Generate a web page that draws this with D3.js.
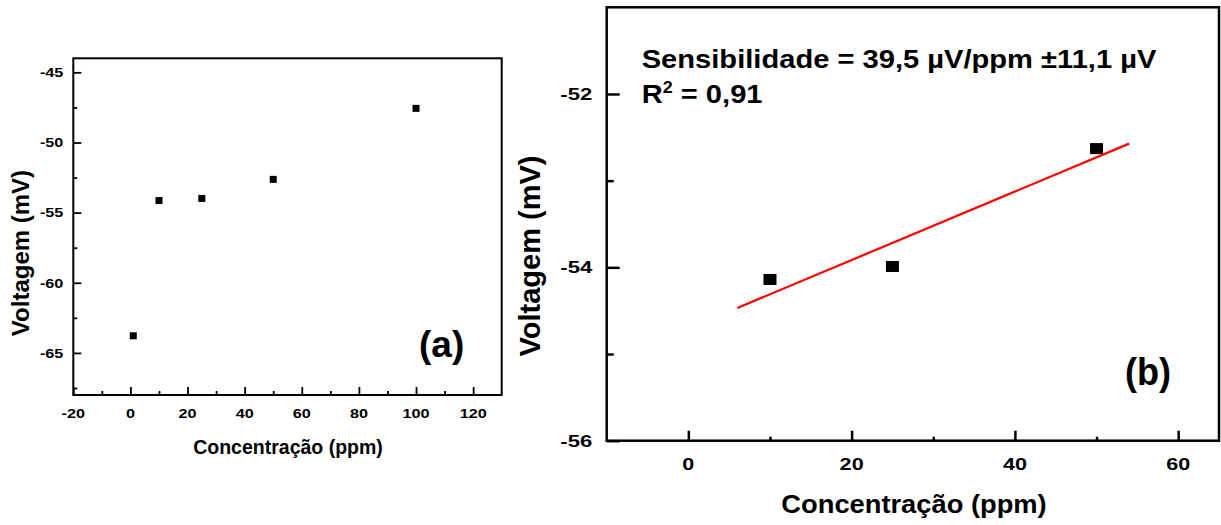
<!DOCTYPE html>
<html>
<head>
<meta charset="utf-8">
<script src="https://cdn.jsdelivr.net/npm/d3@7/dist/d3.min.js"></script>
<style>
  html, body { margin: 0; padding: 0; background: #fff; }
  svg { display: block; }
  text { font-family: "Liberation Sans", Arial, sans-serif; font-weight: bold; fill: #000; }
</style>
</head>
<body>
<svg id="chart" width="1221" height="525"></svg>
<script>
// Sensor response: concentration (ppm) vs. measured voltage (mV)
const concentration = [1, 10, 25, 50, 100];
const voltage = [-63.78, -54.14, -53.99, -52.63, -47.57];

// Linear region used for the sensitivity fit
const fitConcentration = [10, 25, 50];
const fitVoltage = [-54.14, -53.99, -52.63];
const sensitivity = 39.5;      // µV/ppm
const sensitivityError = 11.1; // µV
const rSquared = 0.91;
const fitExtent = [6, 54];     // ppm span of the drawn fit line

// Tick values
const xTicksA = [-20, 0, 20, 40, 60, 80, 100, 120];
const xMinorA = [-10, 10, 30, 50, 70, 90, 110];
const yTicksA = [-65, -60, -55, -50, -45];
const yMinorA = [-67.5, -62.5, -57.5, -52.5, -47.5];
const xTicksB = [0, 20, 40, 60];
const xMinorB = [10, 30, 50];
const yTicksB = [-56, -54, -52];
const yMinorB = [-55, -53];

const xTitle = "Concentração (ppm)";
const yTitle = "Voltagem (mV)";
const fmt = v => String(v).replace(".", ",");

const svg = d3.select("#chart");

// Text placed through a horizontal scale so glyph width can be tuned
function label(parent, str, x, y, size, anchor, sx, rotate) {
  const g = parent.append("g")
    .attr("transform", `translate(${x},${y})` + (rotate ? ` rotate(${rotate})` : "") + ` scale(${sx},1)`);
  return g.append("text")
    .attr("text-anchor", anchor)
    .style("font-size", size + "px")
    .text(str);
}

function ticks(g, axis, width) {
  g.call(axis);
  g.select(".domain").remove();
  g.selectAll(".tick line").attr("stroke", "#000").attr("stroke-width", width);
  g.selectAll(".tick text").remove();
}

// ---------- Panel (a): full concentration range ----------
{
  const x = d3.scaleLinear().domain([-20, 130]).range([73.3, 501.7]);
  const y = d3.scaleLinear().domain([-68, -44]).range([395, 58.3]);
  const g = svg.append("g");

  ticks(g.append("g").attr("transform", `translate(0,${y.range()[0]})`),
    d3.axisBottom(x).tickValues(xTicksA).tickSizeInner(-8).tickSizeOuter(0), 1.8);
  ticks(g.append("g").attr("transform", `translate(0,${y.range()[0]})`),
    d3.axisBottom(x).tickValues(xMinorA).tickSizeInner(-4).tickSizeOuter(0), 1.8);
  ticks(g.append("g").attr("transform", `translate(${x.range()[0]},0)`),
    d3.axisLeft(y).tickValues(yTicksA).tickSizeInner(-8).tickSizeOuter(0), 1.8);
  ticks(g.append("g").attr("transform", `translate(${x.range()[0]},0)`),
    d3.axisLeft(y).tickValues(yMinorA).tickSizeInner(-4).tickSizeOuter(0), 1.8);

  g.append("rect")
    .attr("x", x.range()[0]).attr("y", y.range()[1])
    .attr("width", x.range()[1] - x.range()[0])
    .attr("height", y.range()[0] - y.range()[1])
    .attr("fill", "none").attr("stroke", "#000").attr("stroke-width", 2);

  xTicksA.forEach(v => label(g, fmt(v), x(v), 418, 13.5, "middle", 1.2));
  yTicksA.forEach(v => label(g, fmt(v), 63.3, y(v) + 4.8, 13.5, "end", 1.2));

  label(g, xTitle, 288, 453.5, 19.5, "middle", 1);
  label(g, yTitle, 29, 253, 24, "middle", 1, -90);
  label(g, "(a)", 419, 357, 37, "start", 1);

  g.selectAll("rect.pt").data(concentration).join("rect")
    .attr("class", "pt")
    .attr("x", (d) => x(d) - 3.5)
    .attr("y", (d, i) => y(voltage[i]) - 3.5)
    .attr("width", 7).attr("height", 7)
    .attr("fill", "#000");
}

// ---------- Panel (b): linear region with fit ----------
{
  const x = d3.scaleLinear().domain([-10, 65]).range([606.7, 1219]);
  const y = d3.scaleLinear().domain([-56, -51]).range([440.7, 7.3]);
  const g = svg.append("g");

  ticks(g.append("g").attr("transform", `translate(0,${y.range()[0]})`),
    d3.axisBottom(x).tickValues(xTicksB).tickSizeInner(-10).tickSizeOuter(0), 2.5);
  ticks(g.append("g").attr("transform", `translate(0,${y.range()[0]})`),
    d3.axisBottom(x).tickValues(xMinorB).tickSizeInner(-4).tickSizeOuter(0), 2.5);
  ticks(g.append("g").attr("transform", `translate(${x.range()[0]},0)`),
    d3.axisLeft(y).tickValues(yTicksB).tickSizeInner(-13).tickSizeOuter(0), 2.5);
  ticks(g.append("g").attr("transform", `translate(${x.range()[0]},0)`),
    d3.axisLeft(y).tickValues(yMinorB).tickSizeInner(-7).tickSizeOuter(0), 2.5);

  g.append("rect")
    .attr("x", x.range()[0]).attr("y", y.range()[1])
    .attr("width", x.range()[1] - x.range()[0])
    .attr("height", y.range()[0] - y.range()[1])
    .attr("fill", "none").attr("stroke", "#000").attr("stroke-width", 2.5);

  xTicksB.forEach(v => label(g, fmt(v), x(v), 469.5, 17, "middle", 1.27));
  yTicksB.forEach(v => label(g, fmt(v), 592.3, y(v) + 6, 17, "end", 1.3));

  label(g, xTitle, 914, 513, 26, "middle", 1.05);
  label(g, yTitle, 540, 256, 29, "middle", 1, -90);
  label(g, "(b)", 1125, 385, 38, "start", 0.95);

  // Fit line: slope from the stated sensitivity, through the data centroid
  const slope = sensitivity / 1000; // mV/ppm
  const intercept = d3.mean(fitVoltage) - slope * d3.mean(fitConcentration);
  const line = d3.line().x(d => x(d)).y(d => y(intercept + slope * d));
  g.append("path").datum(fitExtent)
    .attr("d", line)
    .attr("fill", "none").attr("stroke", "#ff0000").attr("stroke-width", 2.2);

  g.selectAll("rect.pt").data(fitConcentration).join("rect")
    .attr("class", "pt")
    .attr("x", d => x(d) - 6.5)
    .attr("y", (d, i) => y(fitVoltage[i]) - 5.5)
    .attr("width", 13).attr("height", 11)
    .attr("fill", "#000");

  const t1 = label(g, "", 641.7, 68, 26, "start", 1.12);
  t1.text(`Sensibilidade = ${fmt(sensitivity)} µV/ppm ±${fmt(sensitivityError)} µV`);
  const t2 = label(g, "", 641.7, 103, 26, "start", 1.12);
  t2.append("tspan").text("R");
  t2.append("tspan").attr("dy", -10).style("font-size", "16px").text("2");
  t2.append("tspan").attr("dy", 10).text(` = ${fmt(rSquared)}`);
}
</script>
</body>
</html>
